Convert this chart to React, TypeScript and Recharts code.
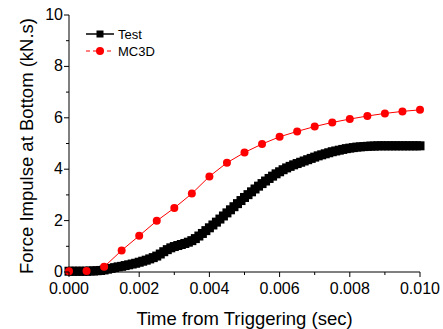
import { LineChart, Line, XAxis, YAxis } from "recharts";

// Test (measured) impulse, one value every 0.1 ms from 0 to 10 ms
const testValues = [
  0.03, 0.03, 0.03, 0.03, 0.03, 0.03, 0.04, 0.04, 0.05, 0.06,
  0.08, 0.11, 0.14, 0.17, 0.2, 0.22, 0.25, 0.28, 0.31, 0.34,
  0.38, 0.42, 0.46, 0.51, 0.56, 0.62, 0.7, 0.79, 0.87, 0.94,
  0.99, 1.03, 1.07, 1.11, 1.16, 1.22, 1.3, 1.4, 1.5, 1.61,
  1.72, 1.83, 1.94, 2.06, 2.18, 2.3, 2.42, 2.54, 2.66, 2.78,
  2.9, 3.01, 3.12, 3.23, 3.34, 3.44, 3.54, 3.64, 3.73, 3.82,
  3.9, 3.98, 4.05, 4.11, 4.17, 4.22, 4.27, 4.32, 4.37, 4.42,
  4.47, 4.52, 4.56, 4.6, 4.64, 4.68, 4.71, 4.74, 4.77, 4.8,
  4.82, 4.84, 4.86, 4.87, 4.88, 4.89, 4.9, 4.9, 4.91, 4.91,
  4.91, 4.91, 4.91, 4.91, 4.91, 4.91, 4.91, 4.91, 4.91, 4.91,
  4.91,
];

// MC3D simulation, one value every 0.5 ms
const mc3dValues = [
  0.03, 0.04, 0.2, 0.84, 1.41, 1.99, 2.49, 3.05, 3.72, 4.25,
  4.65, 4.98, 5.26, 5.47, 5.66, 5.82, 5.95, 6.07, 6.17, 6.25, 6.31,
];

const xTicks = [0, 0.001, 0.002, 0.003, 0.004, 0.005, 0.006, 0.007, 0.008, 0.009, 0.01];
const yTicks = [0, 1, 2, 3, 4, 5, 6, 7, 8, 9, 10];

const testData = testValues.map((v, i) => ({ t: i * 0.0001, v }));
const mc3dData = mc3dValues.map((v, i) => ({ t: i * 0.0005, v }));

const FONT = "'Liberation Sans', Arial, sans-serif";

const isMajorX = (v: number) => Math.round(v * 1000) % 2 === 0;
const isMajorY = (v: number) => Math.round(v) % 2 === 0;

function BottomTick({ x, y, payload }: any) {
  const major = isMajorX(payload.value);
  return (
    <g>
      <line x1={x} x2={x} y1={y} y2={y + (major ? 5 : 3)} stroke="#000" />
      {major && (
        <text x={x} y={y + 22} textAnchor="middle" fontSize={16} fontFamily={FONT} fill="#000">
          {payload.value.toFixed(3)}
        </text>
      )}
    </g>
  );
}

function TopTick({ x, y, payload }: any) {
  const major = isMajorX(payload.value);
  return <line x1={x} x2={x} y1={y} y2={y - (major ? 5 : 3)} stroke="#000" />;
}

function LeftTick({ x, y, payload }: any) {
  const major = isMajorY(payload.value);
  return (
    <g>
      <line x1={x} x2={x - (major ? 5 : 3)} y1={y} y2={y} stroke="#000" />
      {major && (
        <text x={x - 6} y={y + 5} textAnchor="end" fontSize={16} fontFamily={FONT} fill="#000">
          {payload.value}
        </text>
      )}
    </g>
  );
}

function RightTick({ x, y, payload }: any) {
  const major = isMajorY(payload.value);
  return <line x1={x} x2={x + (major ? 5 : 3)} y1={y} y2={y} stroke="#000" />;
}

function SquareDot({ cx, cy, index }: any) {
  return <rect key={`sq-${index}`} x={cx - 4.5} y={cy - 4.5} width={9} height={9} fill="#000" />;
}

function CircleDot({ cx, cy, index }: any) {
  return <circle key={`ci-${index}`} cx={cx} cy={cy} r={4} fill="#ff0000" />;
}

export default function App() {
  return (
    <div style={{ position: "relative", width: 443, height: 329, background: "#fff" }}>
      <style>{`body { margin: 0; }`}</style>
      <LineChart
        width={443}
        height={329}
        margin={{ top: 15, right: 23, bottom: 0, left: 0 }}
      >
        <XAxis
          xAxisId="bottom"
          dataKey="t"
          type="number"
          domain={[0, 0.01]}
          ticks={xTicks}
          interval={0}
          height={57}
          tickSize={0}
          tickMargin={0}
          tickLine={false}
          axisLine={{ stroke: "#000" }}
          tick={<BottomTick />}
          label={{
            content: ({ viewBox }: any) => (
              <text
                x={viewBox.x + viewBox.width / 2}
                y={325}
                textAnchor="middle"
                fontSize={18.5}
                fontFamily={FONT}
                fill="#000"
              >
                Time from Triggering (sec)
              </text>
            ),
          }}
        />
        <XAxis
          xAxisId="top"
          orientation="top"
          dataKey="t"
          type="number"
          domain={[0, 0.01]}
          ticks={xTicks}
          interval={0}
          height={0}
          tickSize={0}
          tickMargin={0}
          tickLine={false}
          axisLine={{ stroke: "#000" }}
          tick={<TopTick />}
        />
        <YAxis
          yAxisId="left"
          type="number"
          domain={[0, 10]}
          ticks={yTicks}
          interval={0}
          width={69}
          tickSize={0}
          tickMargin={0}
          tickLine={false}
          axisLine={{ stroke: "#000" }}
          tick={<LeftTick />}
          label={{
            content: () => (
              <text
                x={33}
                y={146}
                transform="rotate(-90, 33, 146)"
                textAnchor="middle"
                fontSize={18.5}
                fontFamily={FONT}
                fill="#000"
              >
                Force Impulse at Bottom (kN.s)
              </text>
            ),
          }}
        />
        <YAxis
          yAxisId="right"
          orientation="right"
          type="number"
          domain={[0, 10]}
          ticks={yTicks}
          interval={0}
          width={0}
          tickSize={0}
          tickMargin={0}
          tickLine={false}
          axisLine={{ stroke: "#000" }}
          tick={<RightTick />}
        />
        <Line
          xAxisId="bottom"
          yAxisId="left"
          data={testData}
          dataKey="v"
          type="linear"
          stroke="#000"
          strokeWidth={1}
          dot={SquareDot}
          isAnimationActive={false}
        />
        <Line
          xAxisId="bottom"
          yAxisId="left"
          data={mc3dData}
          dataKey="v"
          type="linear"
          stroke="#ff0000"
          strokeWidth={1}
          dot={CircleDot}
          isAnimationActive={false}
        />
      </LineChart>
      <svg
        width={90}
        height={42}
        style={{ position: "absolute", left: 80, top: 24 }}
      >
        <line x1={6} x2={34} y1={10} y2={10} stroke="#000" strokeWidth={1.5} />
        <rect x={16.5} y={6.5} width={7} height={7} fill="#000" />
        <text x={38} y={14.5} fontSize={13} fontFamily={FONT} fill="#000">
          Test
        </text>
        <line x1={6} x2={34} y1={27} y2={27} stroke="#ff0000" strokeWidth={1} strokeDasharray="4 3" />
        <circle cx={20} cy={27} r={4} fill="#ff0000" />
        <text x={38} y={31.5} fontSize={13} fontFamily={FONT} fill="#000">
          MC3D
        </text>
      </svg>
    </div>
  );
}
